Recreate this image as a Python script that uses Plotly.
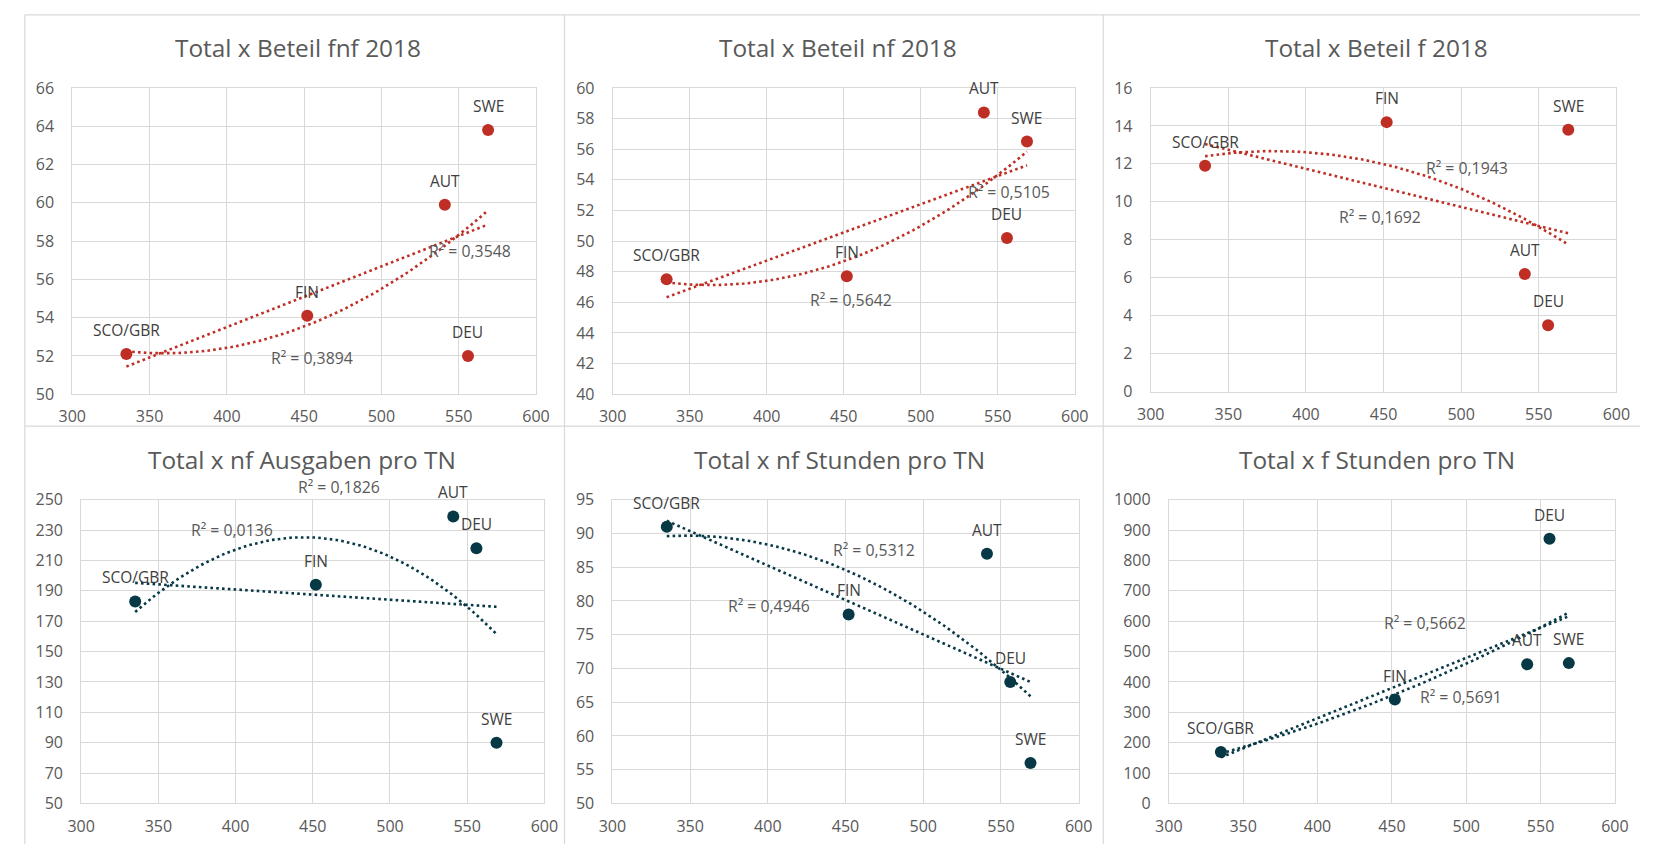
import numpy as np
import plotly.graph_objects as go

# --- data -----------------------------------------------------------------
countries = ["SCO/GBR", "FIN", "AUT", "DEU", "SWE"]
total = [335, 452, 541, 556, 569]

beteil_fnf = [52.1, 54.1, 59.9, 52.0, 63.8]
beteil_nf = [47.5, 47.7, 58.4, 50.2, 56.5]
beteil_f = [11.9, 14.2, 6.2, 3.5, 13.8]
nf_ausgaben = [183, 194, 239, 218, 90]
nf_stunden = [91, 78, 87, 68, 56]
f_stunden = [169, 342, 458, 872, 462]

titles = [
    "Total x Beteil fnf 2018",
    "Total x Beteil nf 2018",
    "Total x Beteil f 2018",
    "Total x nf Ausgaben pro TN",
    "Total x nf Stunden pro TN",
    "Total x f Stunden pro TN",
]

# R² values shown next to the trendlines (linear, polynomial order 2)
r2_linear = ["0,3548", "0,5105", "0,1692", "0,0136", "0,4946", "0,5662"]
r2_poly = ["0,3894", "0,5642", "0,1943", "0,1826", "0,5312", "0,5691"]

x_ticks = [300, 350, 400, 450, 500, 550, 600]

# --- styling / layout -----------------------------------------------------
W, H = 1654, 855
RED = "#BE2E24"
TEAL = "#073845"
GRID = "#D9D9D9"
AXIS_TEXT = "#595959"
LABEL_TEXT = "#404040"
FONT = "Open Sans, Noto Sans, DejaVu Sans, sans-serif"

panels = [
    dict(y=beteil_fnf, yr=[50, 66], dt=2, color=RED,
         box=(59.3, 79, 531, 393.3), title_xy=(289, 37),
         r2_lin_pos=(557.4, 57.47), r2_poly_pos=(455, 51.87)),
    dict(y=beteil_nf, yr=[40, 60], dt=2, color=RED,
         box=(609, 79, 1079, 393.3), title_xy=(838, 37),
         r2_lin_pos=(557.1, 53.21), r2_poly_pos=(454.8, 46.15)),
    dict(y=beteil_f, yr=[0, 16], dt=2, color=RED,
         box=(1156.3, 79, 1630, 390.7), title_xy=(1386, 37),
         r2_lin_pos=(447.7, 9.19), r2_poly_pos=(503.9, 11.8)),
    dict(y=nf_ausgaben, yr=[50, 250], dt=20, color=TEAL,
         box=(68.3, 501.7, 539.5, 813.3), title_xy=(293, 460),
         r2_lin_pos=(397.9, 230.1), r2_poly_pos=(467.3, 257.9)),
    dict(y=nf_stunden, yr=[50, 95], dt=5, color=TEAL,
         box=(608.7, 501.7, 1083, 813.3), title_xy=(840, 460),
         r2_lin_pos=(400.5, 79.26), r2_poly_pos=(468.6, 87.5)),
    dict(y=f_stunden, yr=[0, 1000], dt=100, color=TEAL,
         box=(1174.7, 501.7, 1628.5, 813.3), title_xy=(1386, 460),
         r2_lin_pos=(472.3, 595.7), r2_poly_pos=(496.5, 351.9)),
]

fig = go.Figure()
annotations = []
x_arr = np.array(total, dtype=float)
x_fit = np.linspace(x_arr.min(), x_arr.max(), 80)

for i, p in enumerate(panels):
    n = i + 1
    xa = "x" if n == 1 else f"x{n}"
    ya = "y" if n == 1 else f"y{n}"
    xkey = "xaxis" if n == 1 else f"xaxis{n}"
    ykey = "yaxis" if n == 1 else f"yaxis{n}"
    x0, y0, x1, y1 = p["box"]
    y_arr = np.array(p["y"], dtype=float)

    # trendlines: linear and quadratic least-squares fits
    for deg in (1, 2):
        coef = np.polyfit(x_arr, y_arr, deg)
        fig.add_trace(go.Scatter(
            x=x_fit, y=np.polyval(coef, x_fit), mode="lines",
            line=dict(color=p["color"], width=2.6, dash="2.6px,3.2px"),
            xaxis=xa, yaxis=ya, hoverinfo="skip", showlegend=False,
        ))

    # data points
    fig.add_trace(go.Scatter(
        x=total, y=p["y"], mode="markers",
        marker=dict(color=p["color"], size=12, line=dict(width=0)),
        xaxis=xa, yaxis=ya, showlegend=False, cliponaxis=False,
    ))

    # country labels above the points
    for c, xv, yv in zip(countries, total, p["y"]):
        annotations.append(dict(
            x=xv, y=yv, xref=xa, yref=ya, text=c, showarrow=False,
            yshift=24, font=dict(family=FONT, size=15.5, color=LABEL_TEXT),
        ))

    # R² labels
    px_per_unit = (y1 - y0) / (p["yr"][1] - p["yr"][0])
    for txt, (rx, ry) in ((r2_linear[i], p["r2_lin_pos"]),
                          (r2_poly[i], p["r2_poly_pos"])):
        shift = 0
        if ry > p["yr"][1]:
            shift = (ry - p["yr"][1]) * px_per_unit
            ry = p["yr"][1]
        annotations.append(dict(
            x=rx, y=ry, xref=xa, yref=ya, text=f"R² = {txt}",
            showarrow=False, yshift=shift,
            font=dict(family=FONT, size=15.8, color=AXIS_TEXT),
        ))

    # panel title
    tx, ty = p["title_xy"]
    annotations.append(dict(
        x=tx / W, y=1 - ty / H, xref="paper", yref="paper",
        text=titles[i], showarrow=False, xanchor="center", yanchor="middle",
        font=dict(family=FONT, size=24.4, color=AXIS_TEXT),
    ))

    axis_common = dict(
        showgrid=True, gridcolor=GRID, gridwidth=1,
        showline=True, mirror=True, linecolor=GRID, linewidth=1,
        zeroline=False, ticks="outside", tickcolor="rgba(0,0,0,0)",
        tickfont=dict(family=FONT, size=16, color=AXIS_TEXT),
        fixedrange=True,
    )
    fig.update_layout(**{
        xkey: dict(axis_common, domain=[x0 / W, x1 / W], range=[300, 600],
                   tickvals=x_ticks, ticklen=8, anchor=ya),
        ykey: dict(axis_common, domain=[1 - y1 / H, 1 - y0 / H],
                   range=p["yr"], dtick=p["dt"], tick0=p["yr"][0],
                   ticklen=14, anchor=xa),
    })

# chart-area borders
border = dict(type="line", xref="paper", yref="paper",
              line=dict(color=GRID, width=1.2), layer="below")
shapes = []
for vx in (11, 560, 1108):
    shapes.append(dict(border, x0=vx / W, x1=vx / W, y0=0, y1=1 - 4 / H))
for hy in (4, 426):
    shapes.append(dict(border, x0=11 / W, x1=1, y0=1 - hy / H, y1=1 - hy / H))

fig.update_layout(
    width=W, height=H, autosize=False,
    margin=dict(l=0, r=0, t=0, b=0),
    paper_bgcolor="white", plot_bgcolor="white",
    annotations=annotations, shapes=shapes,
    font=dict(family=FONT, color=AXIS_TEXT),
    showlegend=False,
)

fig.write_html("out.html")
